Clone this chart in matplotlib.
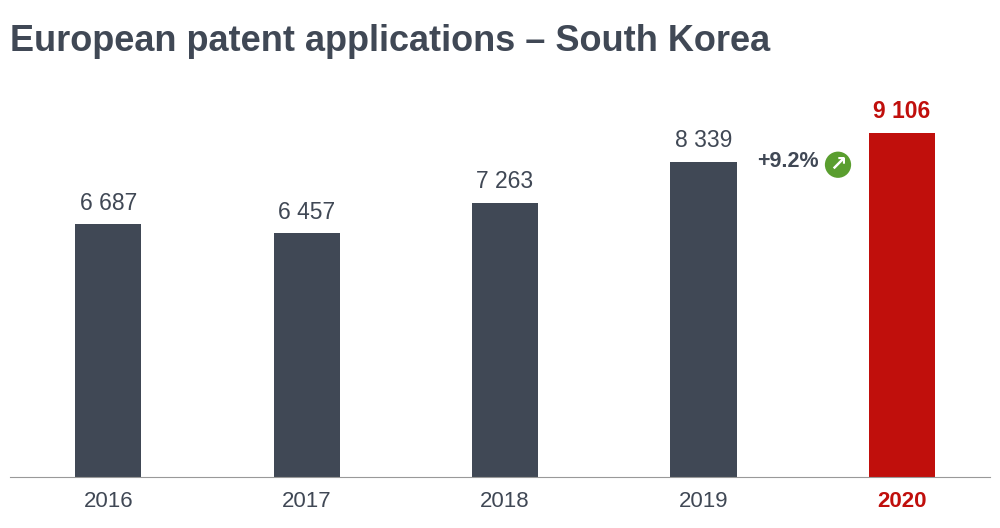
import matplotlib
matplotlib.use("Agg")
import matplotlib.pyplot as plt
from matplotlib.patches import Circle, FancyArrow

years = ["2016", "2017", "2018", "2019", "2020"]
values = [6687, 6457, 7263, 8339, 9106]
labels = ["6 687", "6 457", "7 263", "8 339", "9 106"]
growth = "+9.2%"

dark = "#404855"
red = "#C00F0C"
green = "#5A9E2F"
plt.rcParams['font.family'] = ['Liberation Sans', 'DejaVu Sans']

fig = plt.figure(figsize=(10, 5.28), dpi=100)
fig.text(0.01, 0.955, "European patent applications \u2013 South Korea", fontsize=26,
         fontweight="bold", color=dark, va="top", ha="left")
ax = fig.add_axes([0.01, 0.0966, 0.98, 0.79])
x = list(range(len(years)))
colors = [dark] * 4 + [red]
ax.bar(x, values, width=0.333, color=colors)
for i, (v, l) in enumerate(zip(values, labels)):
    last = i == len(values) - 1
    ax.text(i, v + 250, l, ha="center", va="bottom", fontsize=16.5,
            color=red if last else dark, fontweight="bold" if last else "normal")
ax.set_xlim(-0.495, 4.444)
ax.set_ylim(0, 11038)
ax.set_xticks(x)
ax.set_xticklabels(years, fontsize=16, color=dark)
for t in ax.get_xticklabels()[-1:]:
    t.set_color(red); t.set_fontweight("bold")
ax.tick_params(axis="x", length=0, pad=10)
ax.set_yticks([])
for s in ["top", "right", "left"]:
    ax.spines[s].set_visible(False)
ax.spines["bottom"].set_color("#999999")
ax.text(3.58, 8339, growth, ha="right", va="center", fontsize=15.5, fontweight="bold", color=dark)
fig.text(0.838, 0.688, "\u2197", fontsize=15, fontweight="bold", color="white", ha="center", va="center",
         bbox=dict(boxstyle="circle,pad=0.15", fc=green, ec="none"), family="DejaVu Sans")
fig.savefig("out.png", dpi=100)
